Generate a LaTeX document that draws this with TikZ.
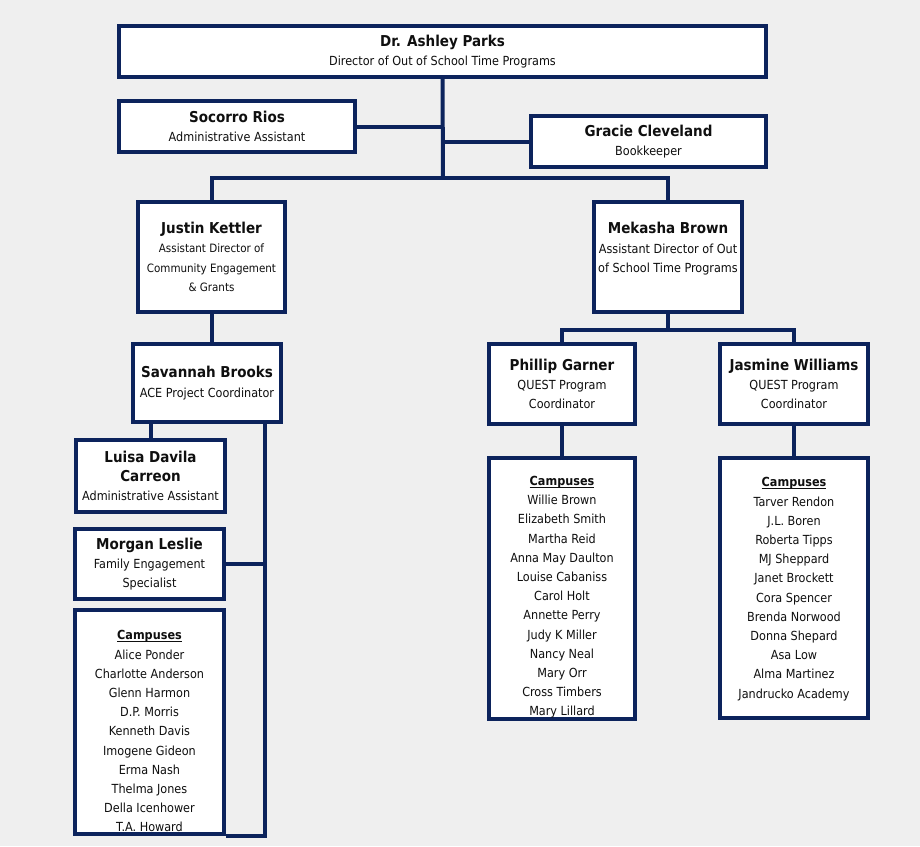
\documentclass[tikz,border=0pt]{standalone}
\usepackage{fontspec}
\setmainfont{DejaVu Sans Condensed}
\definecolor{navy}{RGB}{12,35,92}
\definecolor{paper}{RGB}{239,239,239}
\definecolor{ink}{RGB}{15,15,15}
\newcommand{\nm}[1]{{\fontsize{15}{21}\selectfont\bfseries #1}}
\newsavebox{\campbox}
\newcommand{\campttl}{\sbox{\campbox}{\textbf{Campuses}}\rule{0pt}{28pt}\usebox{\campbox}\llap{\rule[-2.5pt]{\wd\campbox}{1pt}}}

\begin{document}
\begin{tikzpicture}[x=1pt, y=-1pt,
	box/.style = {draw=navy, line width=4pt, fill=white, align=center, text=ink, inner sep=0pt, font=\fontsize{12.5}{19.2}\selectfont},
	link/.style = {draw=navy, line width=4pt}]
	\fill [paper] (0,0) rectangle (920,846);
	% top level
	\node [box, minimum width=647pt, minimum height=51pt] (parks) at (442.5,51.5) {\nm{Dr. Ashley Parks}\\Director of Out of School Time Programs};
	\node [box, minimum width=236pt, minimum height=51pt] (socorro) at (237,126.5) {\nm{Socorro Rios}\\Administrative Assistant};
	\node [box, minimum width=235pt, minimum height=51pt] (gracie) at (648.5,141.5) {\nm{Gracie Cleveland}\\Bookkeeper};
	\coordinate (hub) at (443,178);
	% assistant directors
	\node [box, minimum width=147pt, minimum height=110pt, font=\fontsize{11.5}{19.5}\selectfont] (justin) at (211.5,257) {\nm{Justin Kettler}\\Assistant Director of\\Community Engagement\\\& Grants};
	\node [box, minimum width=148pt, minimum height=110pt] (mekasha) at (668,257) {\nm{Mekasha Brown}\\Assistant Director of Out\\of School Time Programs\\\mbox{}};
	% left branch
	\node [box, minimum width=148pt, minimum height=78pt] (savannah) at (207,383) {\nm{Savannah Brooks}\\ACE Project Coordinator};
	\node [box, minimum width=149pt, minimum height=72pt] (luisa) at (150.5,476) {\nm{Luisa Davila}\\\nm{Carreon}\\Administrative Assistant};
	\node [box, minimum width=149pt, minimum height=70pt] (morgan) at (149.5,564) {\nm{Morgan Leslie}\\Family Engagement\\Specialist};
	\node [box, minimum width=149pt, minimum height=224pt] (campl) at (149.5,722) {\campttl\\Alice Ponder\\Charlotte Anderson\\Glenn Harmon\\D.P. Morris\\Kenneth Davis\\Imogene Gideon\\Erma Nash\\Thelma Jones\\Della Icenhower\\T.A. Howard};
	\coordinate (rail) at (265,424);
	% right branch
	\coordinate (qhub) at (668,330);
	\node [box, minimum width=146pt, minimum height=80pt] (phillip) at (562,384) {\nm{Phillip Garner}\\QUEST Program\\Coordinator};
	\node [box, minimum width=148pt, minimum height=80pt] (jasmine) at (794,384) {\nm{Jasmine Williams}\\QUEST Program\\Coordinator};
	\node [box, minimum width=146pt, minimum height=260pt] (campm) at (562,588) {\campttl\\Willie Brown\\Elizabeth Smith\\Martha Reid\\Anna May Daulton\\Louise Cabaniss\\Carol Holt\\Annette Perry\\Judy K Miller\\Nancy Neal\\Mary Orr\\Cross Timbers\\Mary Lillard};
	\node [box, minimum width=148pt, minimum height=260pt] (campr) at (794,588) {\campttl\\Tarver Rendon\\J.L. Boren\\Roberta Tipps\\MJ Sheppard\\Janet Brockett\\Cora Spencer\\Brenda Norwood\\Donna Shepard\\Asa Low\\Alma Martinez\\Jandrucko Academy\\\mbox{}};
	% connectors
	\draw [link] (parks.south) -- (hub);
	\draw [link] (socorro.east) -- (socorro.east -| hub);
	\draw [link] (gracie.west) -- (gracie.west -| hub);
	\draw [link] (justin.north) |- (hub) -| (mekasha.north);
	\draw [link] (justin.south) -- (justin.south |- savannah.north);
	\draw [link] (luisa.north) -- (luisa.north |- savannah.south);
	\draw [link] (rail) -- (rail |- campl.south) -- (campl.south east);
	\draw [link] (morgan.east) -- (morgan.east -| rail);
	\draw [link] (mekasha.south) -- (qhub);
	\draw [link] (phillip.north) |- (qhub) -| (jasmine.north);
	\draw [link] (phillip) -- (campm);
	\draw [link] (jasmine) -- (campr);
\end{tikzpicture}
\end{document}
